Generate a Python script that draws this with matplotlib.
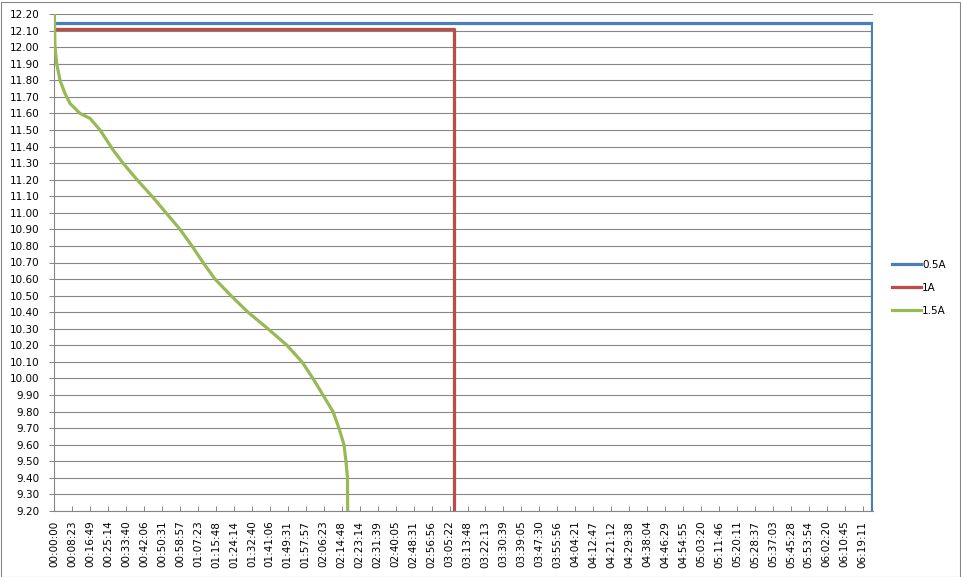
import numpy as np
import matplotlib
matplotlib.use('Agg')
import matplotlib.pyplot as plt
from matplotlib.patches import Rectangle

plt.rcParams['font.family'] = ['DejaVu Sans']

# 横轴标签 (时:分:秒)
time_labels = [
    '00:00:00', '00:08:23', '00:16:49', '00:25:14', '00:33:40', '00:42:06',
    '00:50:31', '00:58:57', '01:07:23', '01:15:48', '01:24:14', '01:32:40',
    '01:41:06', '01:49:31', '01:57:57', '02:06:23', '02:14:48', '02:23:14',
    '02:31:39', '02:40:05', '02:48:31', '02:56:56', '03:05:22', '03:13:48',
    '03:22:13', '03:30:39', '03:39:05', '03:47:30', '03:55:56', '04:04:21',
    '04:12:47', '04:21:12', '04:29:38', '04:38:04', '04:46:29', '04:54:55',
    '05:03:20', '05:11:46', '05:20:11', '05:28:37', '05:37:03', '05:45:28',
    '05:53:54', '06:02:20', '06:10:45', '06:19:11',
]

# 0.5A: 电压基本不变, 最后掉下去
t_05 = [0, 23009, 23009]
v_05 = [12.145, 12.145, 9.20]

# 1A
t_1 = [0, 11256, 11256]
v_1 = [12.11, 12.11, 9.20]

# 1.5A 放电曲线 (秒, 伏)
t_15 = [0, 20, 68, 160, 301, 442, 723, 1005, 1286, 1652, 1933, 2327, 2749,
        3143, 3537, 3875, 4185, 4522, 4972, 5450, 6013, 6548, 6970, 7279,
        7561, 7842, 8011, 8152, 8208, 8250, 8256]
v_15 = [12.20, 12.00, 11.90, 11.80, 11.72, 11.66, 11.60, 11.57, 11.50, 11.38,
        11.30, 11.20, 11.10, 11.00, 10.90, 10.80, 10.70, 10.60, 10.50, 10.40,
        10.30, 10.20, 10.10, 10.00, 9.90, 9.80, 9.70, 9.60, 9.50, 9.40, 9.20]

series_names = ['0.5A', '1A', '1.5A']
series_colors = ['#4A7EBB', '#BE4B48', '#98B954']


def to_seconds(s):
    h, m, sec = s.split(':')
    return int(h) * 3600 + int(m) * 60 + int(sec)


def main():
    fig = plt.figure(figsize=(9.61, 5.77), dpi=100)
    ax = fig.add_axes([54.3 / 961, 66 / 577, 819 / 961, 497 / 577])

    grey = '#868686'
    data = [(t_05, v_05), (t_1, v_1), (t_15, v_15)]
    for (t, v), name, c in zip(data, series_names, series_colors):
        ax.plot(t, v, color=c, linewidth=2.3, label=name,
                solid_joinstyle='round', zorder=3)

    ax.set_xlim(0, 23047)
    ax.set_ylim(9.20, 12.20)

    ax.set_xticks([to_seconds(s) for s in time_labels])
    ax.set_xticklabels(time_labels, rotation=90, fontsize=7.5)
    yt = np.round(np.arange(9.2, 12.21, 0.1), 2)
    ax.set_yticks(yt)
    ax.set_yticklabels(['%.2f' % v for v in yt], fontsize=7.5)

    ax.tick_params(axis='x', direction='in', length=3.5, width=0.7,
                   color=grey, pad=7)
    ax.tick_params(axis='y', direction='out', length=3.5, width=0.7,
                   color=grey, pad=7)

    ax.grid(axis='y', color=grey, linewidth=0.8)
    ax.set_axisbelow(True)
    for side in ['top', 'right']:
        ax.spines[side].set_visible(False)
    for side in ['left', 'bottom']:
        ax.spines[side].set_color(grey)
        ax.spines[side].set_linewidth(0.8)

    # 图例
    ax.legend(loc='center left', bbox_to_anchor=(892 / 961, 1 - 288 / 577),
              bbox_transform=fig.transFigure, frameon=False, fontsize=7.5,
              handlelength=2.8, handletextpad=0.1, labelspacing=1.25,
              borderpad=0, borderaxespad=0)

    # 外框
    fig.patches.append(Rectangle((0.5 / 961, 0.5 / 577), 959 / 961, 575 / 577,
                                 transform=fig.transFigure, fill=False,
                                 edgecolor=grey, linewidth=0.8))

    fig.savefig('out.png', dpi=100)


if __name__ == "__main__":
    main()
